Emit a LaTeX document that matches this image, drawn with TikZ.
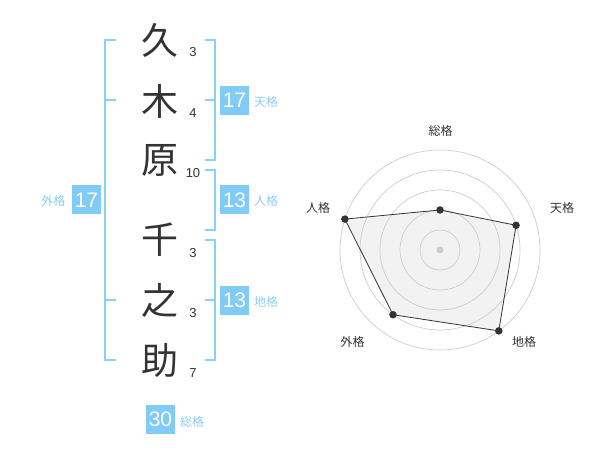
\documentclass[tikz,border=0pt]{standalone}
\usepackage{fontspec}
\setmainfont{Liberation Sans}
\newfontfamily\cjk{Noto Sans CJK JP}
\definecolor{bblue}{HTML}{8ACFF5}
\definecolor{boxblue}{HTML}{80CBF7}
\definecolor{lblue}{HTML}{8DCDF0}
\definecolor{ink}{HTML}{333333}
\definecolor{ring}{HTML}{CCCCCC}
\definecolor{polyfill}{HTML}{F2F2F2}
\tikzset{
  kanji/.style={font=\cjk\fontsize{37}{37}\selectfont, text=ink, inner sep=0pt},
  strokes/.style={font=\fontsize{13}{13}\selectfont, text=ink, inner sep=0pt},
  bracket/.style={draw=bblue, line width=2pt},
  numbox/.style={fill=boxblue, text=white, minimum width=29pt, minimum height=29pt, inner sep=0pt, font=\fontsize{21}{21}\selectfont},
  kaku/.style={text=lblue, font=\cjk\fontsize{12}{12}\selectfont, inner sep=0pt},
  axislabel/.style={text=ink, font=\cjk\fontsize{12}{12}\selectfont, inner sep=0pt},
  ringline/.style={draw=ring, line width=0.7pt},
  pt/.style={circle, fill=ink, inner sep=0pt, minimum size=7.5pt},
}
\begin{document}
\begin{tikzpicture}[x=1pt,y=-1pt]
\useasboundingbox (0,0) rectangle (600,470);
% kanji
\node[kanji] (k1) at (160,40) {久};
\node[kanji] (k2) at (160,101) {木};
\node[kanji] (k3) at (160,160) {原};
\node[kanji] (k4) at (160,240) {千};
\node[kanji] (k5) at (160,300) {之};
\node[kanji] (k6) at (160,360) {助};
% stroke counts
\node[strokes] (s1) at (193,52) {3};
\node[strokes] (s2) at (193,113) {4};
\node[strokes] (s3) at (193,173) {10};
\node[strokes] (s4) at (193,253) {3};
\node[strokes] (s5) at (193,313) {3};
\node[strokes] (s6) at (193,373) {7};
% brackets
\draw[bracket] (116,40) -- (105,40) -- (105,360) -- (116,360);
\draw[bracket] (105,100) -- (116,100);
\draw[bracket] (105,300) -- (116,300);
\draw[bracket] (205,40) -- (215,40) -- (215,160) -- (205,160);
\draw[bracket] (205,100) -- (215,100);
\draw[bracket] (205,170) -- (215,170) -- (215,230) -- (205,230);
\draw[bracket] (205,240) -- (215,240) -- (215,360) -- (205,360);
\draw[bracket] (205,300) -- (215,300);
% boxes
\node[numbox] (gai) at (86.5,200) {17};
\node[kaku] (gail) at (53.5,201) {外格};
\node[numbox] (ten) at (234.5,100.5) {17};
\node[kaku] (tenl) at (266,101.5) {天格};
\node[numbox] (jin) at (234.5,200) {13};
\node[kaku] (jinl) at (266,201) {人格};
\node[numbox] (chi) at (234.5,300.5) {13};
\node[kaku] (chil) at (266,301.5) {地格};
\node[numbox] (sou) at (160.5,419.5) {30};
\node[kaku] (soul) at (192,421.5) {総格};
% radar
\coordinate (c) at (440,250);
\path (c) ++(0,-40) coordinate (p1);
\path (c) ++(76.08,-24.72) coordinate (p2);
\path (c) ++(58.78,80.90) coordinate (p3);
\path (c) ++(-47.02,64.72) coordinate (p4);
\path (c) ++(-95.11,-30.90) coordinate (p5);
\fill[polyfill] (p1) -- (p2) -- (p3) -- (p4) -- (p5) -- cycle;
\foreach \r in {20,40,60,80,100} \draw[ringline] (c) circle[radius=\r];
\fill[ring] (c) circle[radius=3.5];
\draw[draw=ink, line width=0.8pt] (p1) -- (p2) -- (p3) -- (p4) -- (p5) -- cycle;
\foreach \p in {p1,p2,p3,p4,p5} \node[pt] at (\p) {};
\node[axislabel] (a1) at (440.7,130.5) {総格};
\node[axislabel] (a2) at (562,208) {天格};
\node[axislabel] (a3) at (524,342) {地格};
\node[axislabel] (a4) at (352.5,342) {外格};
\node[axislabel] (a5) at (318,208) {人格};
\end{tikzpicture}
\end{document}
